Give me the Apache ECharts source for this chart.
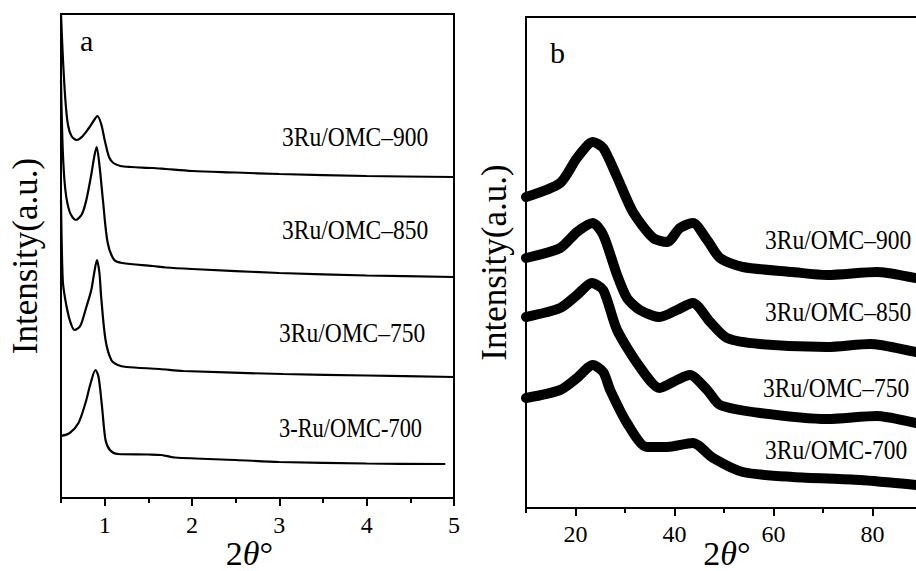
<!DOCTYPE html>
<html><head><meta charset="utf-8">
<script src="https://cdn.jsdelivr.net/npm/echarts@6/dist/echarts.min.js"></script>
<style>html,body{margin:0;padding:0;background:#fff}#c{width:916px;height:571px}</style>
</head><body><div id="c"></div>
<script>
// ---------- data ----------
const labelsA = ['3Ru/OMC\u2013900', '3Ru/OMC\u2013850', '3Ru/OMC\u2013750', '3-Ru/OMC-700'];
const labelsB = ['3Ru/OMC\u2013900', '3Ru/OMC\u2013850', '3Ru/OMC\u2013750', '3Ru/OMC-700'];
const majorTicksA = [1, 2, 3, 4, 5];
const minorTicksA = [0.5, 1.5, 2.5, 3.5, 4.5];
const majorTicksB = [20, 40, 60, 80];
const minorTicksB = [10, 30, 50, 70, 90];

// panel a: small-angle XRD (offset intensity, arbitrary units)
const a900 = [[0.50,484],[0.52,443],[0.55,398],[0.58,373],[0.62,362],[0.68,358],[0.75,362],[0.82,370],[0.88,378],[0.916,382],[0.96,374],[1.00,358],[1.05,341],[1.10,335],[1.18,332],[1.30,331],[1.55,330],[1.70,329],[2.0,327],[2.5,325.5],[3.0,324],[4.0,322],[5.0,321]];
const a850 = [[0.50,418],[0.52,348],[0.55,308],[0.60,286],[0.67,278],[0.74,284],[0.79,298],[0.85,325],[0.88,341],[0.908,351],[0.94,333],[0.98,298],[1.035,255],[1.11,238],[1.20,235],[1.55,232],[1.70,230.5],[2.0,229],[3.0,225],[4.0,222.5],[5.0,221]];
const a750 = [[0.50,298],[0.52,218],[0.55,198],[0.60,178],[0.656,168],[0.72,172],[0.79,191],[0.847,208],[0.88,225],[0.912,238],[0.94,225],[0.96,201],[1.01,158],[1.076,138],[1.15,133],[1.25,131],[1.63,129],[1.9,127],[3.04,124],[4.0,122.5],[5.0,121]];
const a700 = [[0.50,62],[0.60,65],[0.70,75],[0.78,95],[0.84,115],[0.895,128],[0.93,121],[0.97,91],[1.01,58],[1.06,48],[1.15,44],[1.50,43.5],[1.65,43],[1.80,40.5],[2.5,38],[3.0,36],[4.0,34.5],[4.9,34]];

// panel b: wide-angle XRD (offset intensity, arbitrary units)
const b900 = [[10,311],[16.9,325],[20.3,350],[23.5,366],[25.6,360],[28.4,331],[31.6,296],[35.7,270],[38.5,266],[41.1,280],[43.7,285],[46.6,268],[49.2,250],[53.8,241],[63.9,236],[70.8,233],[80.9,236],[88.8,230],[90,229]];
const b850 = [[10,250],[16.9,260],[20.3,276],[23.5,285],[25.6,273],[28.4,233],[30.4,210],[33,198],[37,191],[40.5,198],[43.7,205],[47.2,186],[50.6,170],[57.3,164],[70.8,161],[79.5,164],[88.8,156],[90,155]];
const b750 = [[10,191],[16.9,200],[20.3,213],[23.3,225],[25.6,218],[28.4,178],[33,141],[37,120],[40.5,128],[43.1,133],[46.6,118],[49.2,103],[57.3,95],[70.8,89],[80.9,92],[88.8,85],[90,84]];
const b700 = [[10,110],[16.9,118],[20.3,130],[23.5,143],[25.6,136],[27,118],[30.4,85],[34.4,61],[38.5,61],[43.7,65],[47.8,50],[53.8,36],[63.9,31],[77.5,28],[88.8,23],[90,22]];

// ---------- chart ----------
const FONT = '"Liberation Serif", "Times New Roman", serif';
const chart = echarts.init(document.getElementById('c'), null, {renderer: 'svg'});

function lineA(name, data) {
  return {type: 'line', name, data, xAxisIndex: 0, yAxisIndex: 0, showSymbol: false, smooth: 0.3,
    lineStyle: {color: '#000', width: 2.2}, silent: true, animation: false};
}
function lineB(name, data) {
  return {type: 'line', name, data, xAxisIndex: 2, yAxisIndex: 1, showSymbol: false, smooth: 0.25,
    lineStyle: {color: '#000', width: 10, join: 'round', cap: 'round'}, silent: true, animation: false};
}
const axisLineStyle = {show: true, lineStyle: {color: '#000', width: 2}};
const labelStyle = {color: '#000', fontFamily: FONT, fontSize: 24};

function textEl(txt, x, y, size, sx) {
  return {type: 'text', x, y, scaleX: sx || 1, silent: true,
    style: {text: txt, font: size + 'px ' + FONT, fill: '#000', align: 'left', verticalAlign: 'middle'}};
}
const xName = {
  n: {fontFamily: FONT, fontSize: 34, color: '#000', lineHeight: 28},
  i: {fontFamily: FONT, fontSize: 34, fontStyle: 'italic', color: '#000', lineHeight: 28},
  d: {fontFamily: FONT, fontSize: 34, color: '#000', lineHeight: 28}
};

chart.setOption({
  animation: false,
  backgroundColor: '#fff',
  grid: [
    {left: 61, top: 14, width: 393, height: 484, show: true, borderColor: '#000', borderWidth: 2,
      backgroundColor: 'transparent', outerBoundsMode: 'none', containLabel: false},
    {left: 526, top: 17, width: 396, height: 491, show: true, borderColor: '#000', borderWidth: 2,
      backgroundColor: 'transparent', outerBoundsMode: 'none', containLabel: false}
  ],
  xAxis: [
    {type: 'value', gridIndex: 0, min: 0.5, max: 5, position: 'bottom',
      axisLine: axisLineStyle, splitLine: {show: false},
      axisTick: {show: true, inside: false, length: 8, lineStyle: {color: '#000', width: 2}, customValues: majorTicksA},
      axisLabel: Object.assign({margin: 15, customValues: majorTicksA}, labelStyle),
      name: '{n|2}{i|θ}{d|°}', nameLocation: 'middle', nameGap: 41, nameMoveOverlap: false,
      nameTextStyle: {rich: xName, padding: [0, 16, 0, 0]}},
    {type: 'value', gridIndex: 0, min: 0.5, max: 5, position: 'bottom',
      axisLine: {show: false}, splitLine: {show: false}, axisLabel: {show: false},
      axisTick: {show: true, inside: false, length: 5, lineStyle: {color: '#000', width: 2}, customValues: minorTicksA}},
    {type: 'value', gridIndex: 1, min: 10, max: 90, position: 'bottom',
      axisLine: axisLineStyle, splitLine: {show: false},
      axisTick: {show: true, inside: false, length: 8, lineStyle: {color: '#000', width: 2}, customValues: majorTicksB},
      axisLabel: Object.assign({margin: 14, customValues: majorTicksB}, labelStyle),
      name: '{n|2}{i|θ}{d|°}', nameLocation: 'middle', nameGap: 31, nameMoveOverlap: false,
      nameTextStyle: {rich: xName, padding: [0, 0, 0, 6]}},
    {type: 'value', gridIndex: 1, min: 10, max: 90, position: 'bottom',
      axisLine: {show: false}, splitLine: {show: false}, axisLabel: {show: false},
      axisTick: {show: true, inside: false, length: 5, lineStyle: {color: '#000', width: 2}, customValues: minorTicksB}}
  ],
  yAxis: [
    {type: 'value', gridIndex: 0, min: 0, max: 484, axisLine: axisLineStyle, axisTick: {show: false},
      axisLabel: {show: false}, splitLine: {show: false},
      name: 'Intensity(a.u.)', nameLocation: 'middle', nameGap: 18, nameRotate: 90, nameMoveOverlap: false,
      nameTextStyle: {fontFamily: FONT, fontSize: 35, color: '#000'}},
    {type: 'value', gridIndex: 1, min: 0, max: 491, axisLine: axisLineStyle, axisTick: {show: false},
      axisLabel: {show: false}, splitLine: {show: false},
      name: 'Intensity(a.u.)', nameLocation: 'middle', nameGap: 14, nameRotate: 90, nameMoveOverlap: false,
      nameTextStyle: {fontFamily: FONT, fontSize: 35, color: '#000'}}
  ],
  series: [
    lineA(labelsA[0], a900), lineA(labelsA[1], a850), lineA(labelsA[2], a750), lineA(labelsA[3], a700),
    lineB(labelsB[0], b900), lineB(labelsB[1], b850), lineB(labelsB[2], b750), lineB(labelsB[3], b700)
  ],
  graphic: [
    textEl('a', 80, 40, 30),
    textEl('b', 550, 52, 30),
    textEl(labelsA[0], 282, 137, 28, 0.84),
    textEl(labelsA[1], 282, 230, 28, 0.84),
    textEl(labelsA[2], 279, 333, 28, 0.84),
    textEl(labelsA[3], 279, 427, 28, 0.80),
    textEl(labelsB[0], 765, 240, 28, 0.84),
    textEl(labelsB[1], 765, 312, 28, 0.84),
    textEl(labelsB[2], 763, 388, 28, 0.84),
    textEl(labelsB[3], 765, 450, 28, 0.84)
  ]
});
</script>
</body></html>
